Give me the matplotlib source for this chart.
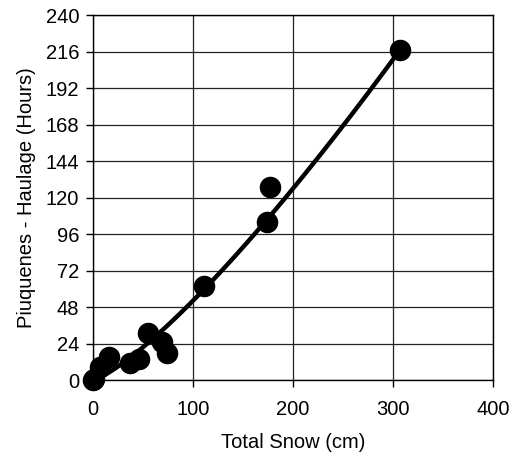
import numpy as np
import matplotlib.pyplot as plt
import matplotlib as mpl

mpl.rcParams["font.family"] = "sans-serif"
mpl.rcParams["font.sans-serif"] = ["Liberation Sans"]

snow_cm = [0, 1, 7, 16, 37, 46, 55, 69, 74, 111, 174, 177, 307]
haulage_hours = [0, 1, 9, 15, 11, 14, 31, 25, 18, 62, 104, 127, 217]

# power trend line y = c * x^p
TREND_C = 0.1505
TREND_P = 1.27
TREND_X_MIN, TREND_X_MAX = 1, 307

x_ticks = [0, 100, 200, 300, 400]
y_ticks = [0, 24, 48, 72, 96, 120, 144, 168, 192, 216, 240]

fig = plt.figure(figsize=(5.22, 4.57), dpi=100)
ax = fig.add_axes([0.178, 0.168, 0.766, 0.799])

xs = np.linspace(TREND_X_MIN, TREND_X_MAX, 200)
ax.plot(xs, TREND_C * xs ** TREND_P, color="black", linewidth=3.2, zorder=3)
ax.scatter(snow_cm, haulage_hours, s=210, color="black", zorder=4, clip_on=False)

ax.set_xlim(0, 400)
ax.set_ylim(0, 240)
ax.set_xticks(x_ticks)
ax.set_yticks(y_ticks)
ax.grid(True, color="#222222", linewidth=0.9)
ax.set_axisbelow(True)
for sp in ax.spines.values():
    sp.set_color("black")
    sp.set_linewidth(1.0)
ax.tick_params(direction="out", length=5, width=1, labelsize=14.5, colors="black")
ax.tick_params(axis="x", pad=9)
ax.tick_params(axis="y", pad=5)
ax.set_xlabel("Total Snow (cm)", fontsize=14.5, labelpad=10)
ax.set_ylabel("Piuquenes - Haulage (Hours)", fontsize=14.5, labelpad=7)

fig.savefig("out.png", dpi=100)
